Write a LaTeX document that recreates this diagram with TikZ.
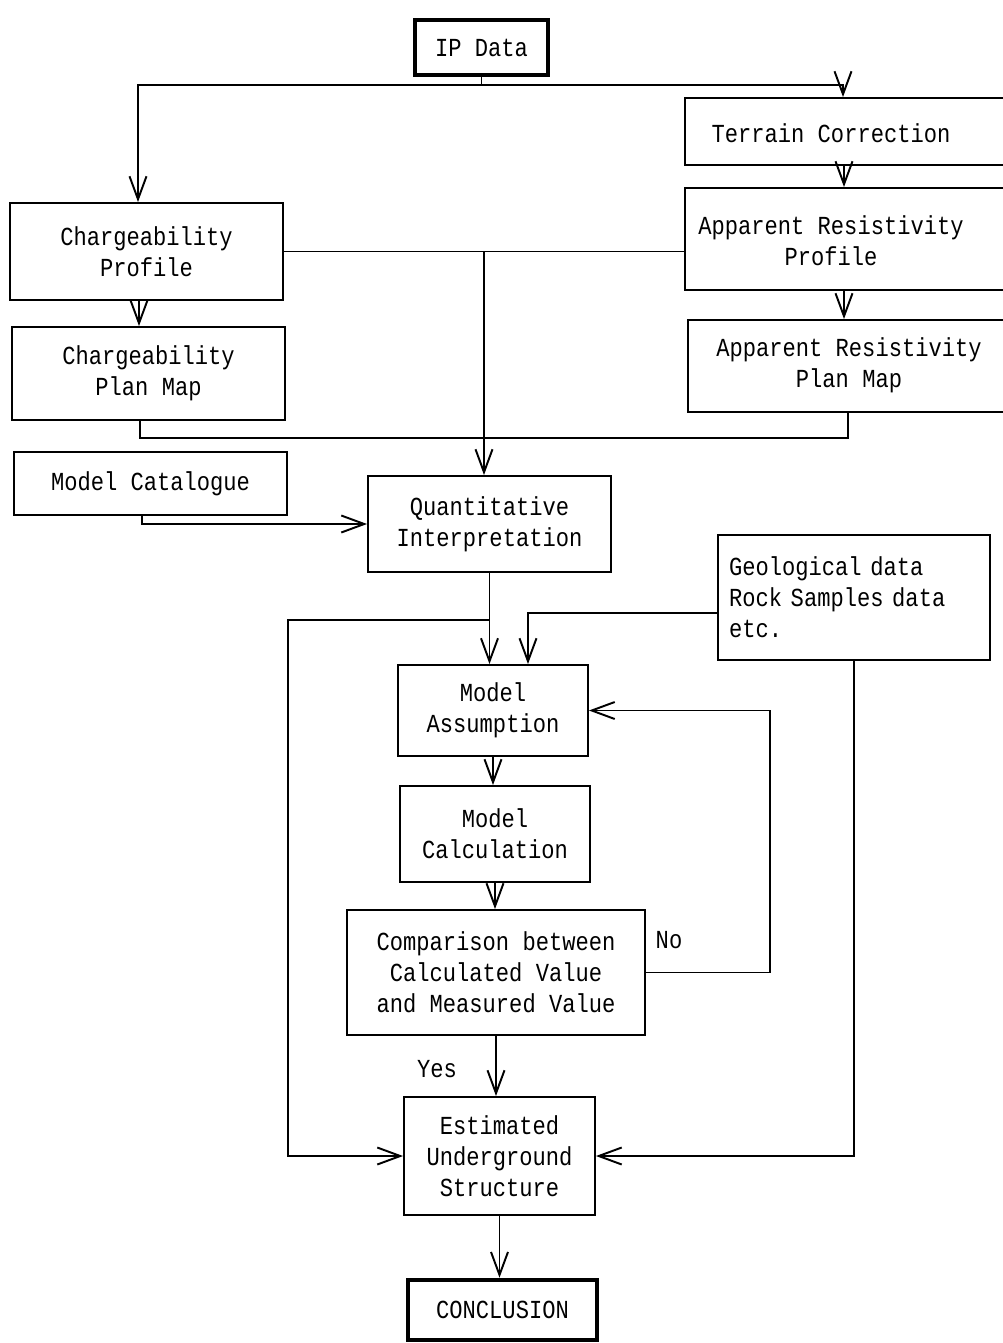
\documentclass[tikz,border=0pt]{standalone}
\usepackage{fontspec}
\setmainfont[FakeStretch=0.85]{Liberation Mono}
\usetikzlibrary{arrows.meta}

\begin{document}
\begin{tikzpicture}[x=0.02cm, y=-0.02cm, line width=1.1pt,
    every node/.style={font=\fontsize{14.8}{17.6}\selectfont}]
  \tikzset{
    box/.style={rectangle, draw, align=center, inner sep=0pt},
    bold/.style={box, line width=2.6pt},
    txt/.style={align=center},
    arr/.style={-{Straight Barb[length=0.46cm, width=0.34cm]}}
  }
  \useasboundingbox (0,0) rectangle (1003,1343);

  % left column
  \node[bold, minimum width=2.66cm, minimum height=1.1cm] (ip) at (481.5,47.5) {IP Data};
  \node[box, minimum width=5.46cm, minimum height=1.94cm] (cprof) at (146.5,251.5) {Chargeability\\Profile};
  \node[box, minimum width=5.46cm, minimum height=1.86cm] (cplan) at (148.5,373.5) {Chargeability\\Plan Map};
  \node[box, minimum width=5.46cm, minimum height=1.26cm] (catalogue) at (150.5,483.5) {Model Catalogue};

  % right column (boxes run off the page)
  \node[box, minimum width=6.6cm, minimum height=1.34cm] (terrain) at (850,131.5) {};
  \node[txt] (terraintext) at (831,133) {Terrain Correction};
  \node[box, minimum width=6.6cm, minimum height=2.04cm] (arprof) at (850,239) {};
  \node[txt] (arproftext) at (831,241) {Apparent Resistivity\\Profile};
  \node[box, minimum width=6.54cm, minimum height=1.84cm] (arplan) at (851.5,366) {};
  \node[txt] (arplantext) at (849,365) {Apparent Resistivity\\Plan Map};
  \node[box, minimum width=5.44cm, minimum height=2.5cm, text width=5.0cm, align=left] (geo) at (854,597.5) {Geological data\\Rock Samples data\\etc.};

  % main chain
  \node[box, minimum width=4.86cm, minimum height=1.92cm] (quant) at (489.5,524) {Quantitative\\Interpretation};
  \node[box, minimum width=3.8cm, minimum height=1.82cm] (assume) at (493,710.5) {Model\\Assumption};
  \node[box, minimum width=3.8cm, minimum height=1.92cm] (calc) at (495,834) {Model\\Calculation};
  \node[box, minimum width=5.96cm, minimum height=2.5cm] (comp) at (496,972.5) {Comparison between\\Calculated Value\\and Measured Value};
  \node[box, minimum width=3.82cm, minimum height=2.36cm] (est) at (499.5,1156) {Estimated\\Underground\\Structure};
  \node[bold, minimum width=3.78cm, minimum height=1.2cm] (concl) at (502.5,1310) {CONCLUSION};
  \node (no) at (669,940) {No};
  \node (yes) at (437,1069) {Yes};

  % connectors
  \coordinate (ipsplit) at (481.5,85);
  \draw (ip.south) -- (ipsplit);
  \draw[arr] (ipsplit) -| ([xshift=-0.17cm]cprof.north);
  \draw[arr] (ipsplit) -| ([xshift=-0.14cm]terrain.north);
  \draw[arr] ([xshift=-0.12cm]terrain.south) -- ([xshift=-0.12cm]arprof.north);
  \draw[arr] ([xshift=-0.12cm]arprof.south) -- ([xshift=-0.15cm]arplan.north);
  \draw[arr] ([xshift=-0.15cm]cprof.south) -- ([xshift=-0.19cm]cplan.north);
  \draw (cprof.east) -- (cprof.east -| arprof.west);
  \draw[arr] (cprof.east -| 484,0) -- (quant.north -| 484,0);
  \draw ([xshift=-0.17cm]cplan.south) -- ++(0,17) -| ([xshift=-0.07cm]arplan.south);
  \draw[arr] ([xshift=-0.17cm]catalogue.south) |- (quant.west);
  \draw[arr] (quant.south) -- (quant.south |- assume.north);
  \draw[arr] (quant.south |- 0,620) -| (288,0 |- est.west) -- (est.west);
  \draw[arr] (geo.west |- 0,613) -| ([xshift=0.7cm]assume.north);
  \draw[arr] (geo.south) |- (est.east);
  \draw[arr] (comp.east) -| (770,0 |- assume.east) -- (assume.east);
  \draw[arr] (assume.south) -- (assume.south |- calc.north);
  \draw[arr] (calc.south) -- (calc.south |- comp.north);
  \draw[arr] (comp.south) -- (comp.south |- est.north);
  \draw[arr] (est.south) -- (est.south |- concl.north);
\end{tikzpicture}
\end{document}
